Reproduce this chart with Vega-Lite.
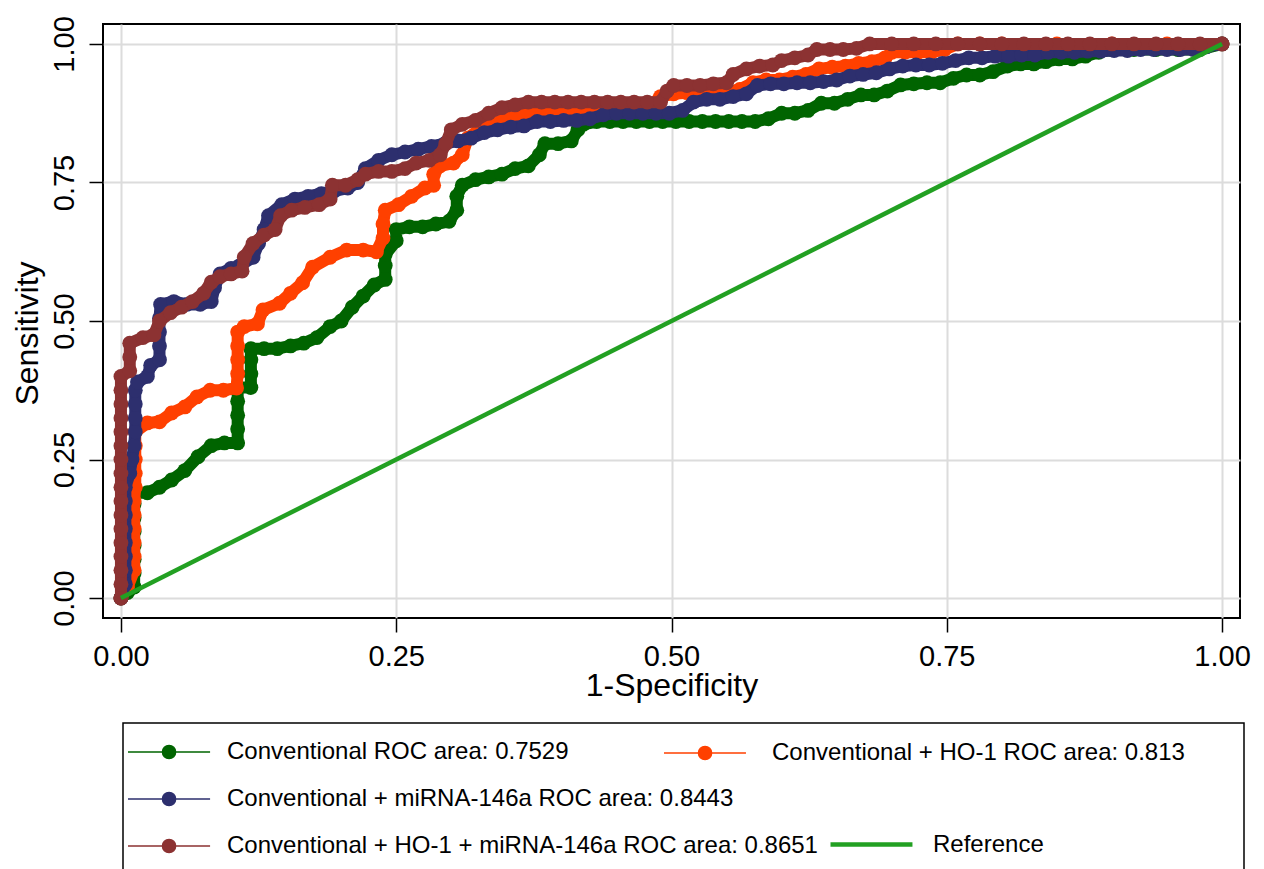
{
  "$schema": "https://vega.github.io/schema/vega-lite/v6.json",
  "width": 1137,
  "height": 594,
  "autosize": {"type": "none"},
  "padding": {"left": 103, "top": 24, "right": 24, "bottom": 251},
  "background": "white",
  "config": {
    "font": "Liberation Sans",
    "view": {"stroke": "#000", "strokeWidth": 2},
    "legend": {"strokeWidth": 1.5}
  },
  "datasets": {
    "conv": [
      {"x":0,"y":0},{"x":0.006,"y":0.01},{"x":0.012,"y":0.02},{"x":0.012,"y":0.045},{"x":0.012,"y":0.07},{"x":0.012,"y":0.095},{"x":0.012,"y":0.12},{"x":0.012,"y":0.145},{"x":0.012,"y":0.17},{"x":0.012,"y":0.19},
      {"x":0.024,"y":0.19},{"x":0.035,"y":0.2},{"x":0.046,"y":0.213},{"x":0.058,"y":0.23},{"x":0.07,"y":0.255},{"x":0.082,"y":0.275},{"x":0.094,"y":0.28},{"x":0.106,"y":0.28},
      {"x":0.106,"y":0.305},{"x":0.106,"y":0.33},{"x":0.106,"y":0.355},{"x":0.106,"y":0.38},{"x":0.118,"y":0.38},{"x":0.118,"y":0.405},{"x":0.118,"y":0.43},{"x":0.118,"y":0.45},
      {"x":0.13,"y":0.45},{"x":0.142,"y":0.45},{"x":0.154,"y":0.455},{"x":0.166,"y":0.46},{"x":0.178,"y":0.47},{"x":0.19,"y":0.49},{"x":0.2,"y":0.5},{"x":0.21,"y":0.525},{"x":0.22,"y":0.545},{"x":0.23,"y":0.565},{"x":0.24,"y":0.575},
      {"x":0.24,"y":0.6},{"x":0.24,"y":0.62},{"x":0.25,"y":0.645},{"x":0.25,"y":0.665},{"x":0.262,"y":0.67},{"x":0.274,"y":0.67},{"x":0.286,"y":0.675},{"x":0.298,"y":0.68},
      {"x":0.305,"y":0.7},{"x":0.305,"y":0.725},{"x":0.31,"y":0.745},{"x":0.322,"y":0.755},{"x":0.334,"y":0.76},{"x":0.346,"y":0.765},{"x":0.358,"y":0.775},{"x":0.37,"y":0.78},{"x":0.38,"y":0.8},{"x":0.385,"y":0.82},{"x":0.397,"y":0.82},{"x":0.409,"y":0.825},{"x":0.415,"y":0.845},{"x":0.42,"y":0.855},
      {"x":0.432,"y":0.86},{"x":0.444,"y":0.86},{"x":0.456,"y":0.86},{"x":0.468,"y":0.86},{"x":0.48,"y":0.86},{"x":0.492,"y":0.86},{"x":0.504,"y":0.86},{"x":0.516,"y":0.86},{"x":0.528,"y":0.86},{"x":0.54,"y":0.86},{"x":0.552,"y":0.86},{"x":0.564,"y":0.86},{"x":0.576,"y":0.86},
      {"x":0.588,"y":0.865},{"x":0.6,"y":0.875},{"x":0.612,"y":0.875},{"x":0.624,"y":0.88},{"x":0.636,"y":0.893},{"x":0.648,"y":0.893},{"x":0.66,"y":0.9},{"x":0.672,"y":0.908},{"x":0.684,"y":0.908},{"x":0.696,"y":0.915},{"x":0.708,"y":0.926},{"x":0.72,"y":0.928},{"x":0.732,"y":0.93},{"x":0.744,"y":0.93},{"x":0.756,"y":0.938},{"x":0.768,"y":0.944},{"x":0.78,"y":0.944},{"x":0.792,"y":0.95},{"x":0.805,"y":0.96},{"x":0.817,"y":0.964},{"x":0.829,"y":0.964},{"x":0.84,"y":0.968},{"x":0.852,"y":0.973},{"x":0.864,"y":0.973},{"x":0.876,"y":0.978},{"x":0.888,"y":0.985},{"x":0.9,"y":0.99},{"x":0.92,"y":0.99},{"x":0.94,"y":0.99},{"x":0.96,"y":0.99},{"x":0.98,"y":0.99},{"x":1,"y":1}
    ],
    "ho1": [
      {"x":0,"y":0},{"x":0.006,"y":0.02},{"x":0.012,"y":0.05},{"x":0.012,"y":0.075},{"x":0.012,"y":0.1},{"x":0.012,"y":0.125},{"x":0.012,"y":0.15},{"x":0.012,"y":0.175},{"x":0.013,"y":0.2},{"x":0.013,"y":0.225},{"x":0.013,"y":0.25},{"x":0.013,"y":0.275},{"x":0.013,"y":0.3},
      {"x":0.024,"y":0.316},{"x":0.035,"y":0.318},{"x":0.046,"y":0.334},{"x":0.058,"y":0.345},{"x":0.069,"y":0.363},{"x":0.081,"y":0.375},{"x":0.093,"y":0.375},{"x":0.105,"y":0.379},
      {"x":0.106,"y":0.405},{"x":0.106,"y":0.43},{"x":0.106,"y":0.455},{"x":0.106,"y":0.48},{"x":0.112,"y":0.49},{"x":0.124,"y":0.495},{"x":0.129,"y":0.52},{"x":0.144,"y":0.532},{"x":0.154,"y":0.55},{"x":0.165,"y":0.569},{"x":0.174,"y":0.597},{"x":0.19,"y":0.615},{"x":0.205,"y":0.628},{"x":0.22,"y":0.628},{"x":0.232,"y":0.625},
      {"x":0.238,"y":0.65},{"x":0.238,"y":0.675},{"x":0.24,"y":0.7},{"x":0.252,"y":0.71},{"x":0.264,"y":0.725},{"x":0.276,"y":0.74},{"x":0.284,"y":0.745},{"x":0.284,"y":0.765},{"x":0.29,"y":0.78},{"x":0.302,"y":0.785},
      {"x":0.31,"y":0.8},{"x":0.315,"y":0.83},{"x":0.325,"y":0.845},{"x":0.337,"y":0.855},{"x":0.349,"y":0.865},{"x":0.361,"y":0.87},{"x":0.373,"y":0.875},{"x":0.385,"y":0.878},{"x":0.397,"y":0.878},{"x":0.41,"y":0.878},{"x":0.422,"y":0.878},{"x":0.434,"y":0.878},{"x":0.446,"y":0.878},{"x":0.458,"y":0.878},{"x":0.47,"y":0.88},{"x":0.482,"y":0.89},{"x":0.49,"y":0.905},
      {"x":0.502,"y":0.91},{"x":0.514,"y":0.912},{"x":0.526,"y":0.912},{"x":0.538,"y":0.912},{"x":0.55,"y":0.912},{"x":0.562,"y":0.918},{"x":0.574,"y":0.93},{"x":0.586,"y":0.935},{"x":0.598,"y":0.935},{"x":0.61,"y":0.94},{"x":0.622,"y":0.945},{"x":0.634,"y":0.955},{"x":0.646,"y":0.958},{"x":0.658,"y":0.96},{"x":0.67,"y":0.965},{"x":0.682,"y":0.968},{"x":0.694,"y":0.975},{"x":0.7,"y":0.985},{"x":0.712,"y":0.985},{"x":0.724,"y":0.985},{"x":0.736,"y":0.985},{"x":0.748,"y":0.99},{"x":0.76,"y":1},{"x":0.78,"y":1},{"x":0.8,"y":1},{"x":0.85,"y":1},{"x":0.9,"y":1},{"x":0.95,"y":1},{"x":1,"y":1}
    ],
    "mirna": [
      {"x":0,"y":0},{"x":0.004,"y":0.025},{"x":0.004,"y":0.05},{"x":0.004,"y":0.075},{"x":0.004,"y":0.1},{"x":0.004,"y":0.125},{"x":0.004,"y":0.15},{"x":0.004,"y":0.175},{"x":0.004,"y":0.2},{"x":0.008,"y":0.225},{"x":0.01,"y":0.25},{"x":0.012,"y":0.275},{"x":0.013,"y":0.3},{"x":0.013,"y":0.325},{"x":0.013,"y":0.35},{"x":0.013,"y":0.375},{"x":0.015,"y":0.39},
      {"x":0.024,"y":0.4},{"x":0.027,"y":0.42},{"x":0.035,"y":0.43},{"x":0.035,"y":0.455},{"x":0.035,"y":0.48},{"x":0.035,"y":0.505},{"x":0.036,"y":0.53},{"x":0.048,"y":0.535},{"x":0.06,"y":0.53},{"x":0.072,"y":0.53},{"x":0.082,"y":0.535},{"x":0.085,"y":0.56},{"x":0.09,"y":0.585},{"x":0.1,"y":0.595},{"x":0.108,"y":0.6},
      {"x":0.12,"y":0.615},{"x":0.125,"y":0.64},{"x":0.13,"y":0.665},{"x":0.134,"y":0.69},{"x":0.146,"y":0.71},{"x":0.158,"y":0.72},{"x":0.17,"y":0.725},{"x":0.182,"y":0.73},{"x":0.194,"y":0.735},{"x":0.206,"y":0.74},{"x":0.215,"y":0.75},{"x":0.222,"y":0.775},{"x":0.234,"y":0.79},{"x":0.246,"y":0.8},{"x":0.258,"y":0.805},{"x":0.27,"y":0.81},{"x":0.282,"y":0.815},{"x":0.294,"y":0.82},
      {"x":0.306,"y":0.825},{"x":0.318,"y":0.83},{"x":0.33,"y":0.84},{"x":0.342,"y":0.845},{"x":0.354,"y":0.85},{"x":0.366,"y":0.852},{"x":0.378,"y":0.86},{"x":0.39,"y":0.86},{"x":0.402,"y":0.862},{"x":0.414,"y":0.862},{"x":0.426,"y":0.865},{"x":0.438,"y":0.872},{"x":0.45,"y":0.875},{"x":0.462,"y":0.875},{"x":0.474,"y":0.875},{"x":0.486,"y":0.875},{"x":0.498,"y":0.875},
      {"x":0.51,"y":0.88},{"x":0.52,"y":0.895},{"x":0.532,"y":0.9},{"x":0.544,"y":0.9},{"x":0.556,"y":0.905},{"x":0.568,"y":0.91},{"x":0.578,"y":0.925},{"x":0.59,"y":0.928},{"x":0.602,"y":0.928},{"x":0.614,"y":0.93},{"x":0.626,"y":0.93},{"x":0.638,"y":0.932},{"x":0.65,"y":0.935},{"x":0.662,"y":0.942},{"x":0.674,"y":0.945},{"x":0.686,"y":0.948},{"x":0.698,"y":0.955},{"x":0.71,"y":0.96},{"x":0.722,"y":0.962},{"x":0.734,"y":0.962},{"x":0.746,"y":0.965},{"x":0.758,"y":0.97},{"x":0.77,"y":0.975},{"x":0.782,"y":0.975},{"x":0.794,"y":0.978},{"x":0.806,"y":0.978},{"x":0.818,"y":0.98},{"x":0.83,"y":0.98},{"x":0.842,"y":0.985},{"x":0.854,"y":0.985},{"x":0.866,"y":0.985},{"x":0.878,"y":0.987},{"x":0.89,"y":0.987},{"x":0.902,"y":0.988},{"x":0.914,"y":0.988},{"x":0.926,"y":0.99},{"x":0.938,"y":0.99},{"x":0.95,"y":0.99},{"x":0.962,"y":0.99},{"x":0.974,"y":0.99},{"x":0.986,"y":0.995},{"x":1,"y":1}
    ],
    "comb": [
      {"x":0,"y":0},{"x":0,"y":0.025},{"x":0,"y":0.05},{"x":0,"y":0.075},{"x":0,"y":0.1},{"x":0,"y":0.125},{"x":0,"y":0.15},{"x":0,"y":0.175},{"x":0,"y":0.2},{"x":0,"y":0.225},{"x":0,"y":0.25},{"x":0,"y":0.275},{"x":0,"y":0.3},{"x":0,"y":0.325},{"x":0,"y":0.35},{"x":0,"y":0.375},{"x":0,"y":0.4},
      {"x":0.008,"y":0.41},{"x":0.008,"y":0.435},{"x":0.008,"y":0.46},{"x":0.02,"y":0.47},{"x":0.03,"y":0.475},{"x":0.035,"y":0.5},{"x":0.045,"y":0.515},{"x":0.055,"y":0.525},{"x":0.065,"y":0.535},{"x":0.075,"y":0.55},{"x":0.082,"y":0.57},{"x":0.09,"y":0.58},{"x":0.1,"y":0.585},{"x":0.11,"y":0.59},
      {"x":0.112,"y":0.615},{"x":0.12,"y":0.64},{"x":0.13,"y":0.655},{"x":0.14,"y":0.665},{"x":0.145,"y":0.69},{"x":0.155,"y":0.7},{"x":0.167,"y":0.705},{"x":0.18,"y":0.71},{"x":0.19,"y":0.72},{"x":0.192,"y":0.745},{"x":0.204,"y":0.745},{"x":0.215,"y":0.755},{"x":0.222,"y":0.765},{"x":0.234,"y":0.77},{"x":0.246,"y":0.77},{"x":0.258,"y":0.775},{"x":0.268,"y":0.785},{"x":0.28,"y":0.79},{"x":0.29,"y":0.8},
      {"x":0.295,"y":0.82},{"x":0.3,"y":0.845},{"x":0.31,"y":0.855},{"x":0.322,"y":0.862},{"x":0.334,"y":0.875},{"x":0.346,"y":0.885},{"x":0.358,"y":0.89},{"x":0.37,"y":0.895},{"x":0.382,"y":0.895},{"x":0.394,"y":0.895},{"x":0.406,"y":0.895},{"x":0.418,"y":0.895},{"x":0.43,"y":0.895},{"x":0.442,"y":0.895},{"x":0.454,"y":0.895},{"x":0.466,"y":0.895},{"x":0.478,"y":0.895},{"x":0.49,"y":0.895},
      {"x":0.496,"y":0.915},{"x":0.502,"y":0.925},{"x":0.514,"y":0.925},{"x":0.526,"y":0.925},{"x":0.538,"y":0.928},{"x":0.55,"y":0.93},{"x":0.556,"y":0.945},{"x":0.568,"y":0.955},{"x":0.58,"y":0.96},{"x":0.592,"y":0.962},{"x":0.6,"y":0.97},{"x":0.612,"y":0.975},{"x":0.624,"y":0.98},{"x":0.632,"y":0.99},{"x":0.644,"y":0.99},{"x":0.656,"y":0.99},{"x":0.668,"y":0.992},
      {"x":0.68,"y":1},{"x":0.7,"y":1},{"x":0.72,"y":1},{"x":0.74,"y":1},{"x":0.76,"y":1},{"x":0.78,"y":1},{"x":0.8,"y":1},{"x":0.82,"y":1},{"x":0.84,"y":1},{"x":0.86,"y":1},{"x":0.88,"y":1},{"x":0.9,"y":1},{"x":0.92,"y":1},{"x":0.94,"y":1},{"x":0.96,"y":1},{"x":0.98,"y":1},{"x":1,"y":1}
    ],
    "ref": [{"x":0,"y":0},{"x":1,"y":1}]
  },
  "encoding": {
    "x": {
      "field": "x", "type": "quantitative",
      "scale": {"domain": [-0.0163, 1.0163], "nice": false, "zero": false},
      "axis": {
        "values": [0, 0.25, 0.5, 0.75, 1], "format": ".2f", "title": "1-Specificity",
        "grid": true, "gridColor": "#dcdcdc", "gridWidth": 2, "domain": false,
        "tickColor": "#000", "tickSize": 14, "tickWidth": 1.5,
        "labelFont": "Liberation Sans", "labelFontSize": 29, "labelColor": "#000", "labelPadding": 10,
        "titleFont": "Liberation Sans", "titleFontSize": 32, "titleFontWeight": "normal", "titleColor": "#000",
        "titleY": 77, "titleBaseline": "alphabetic"
      }
    },
    "y": {
      "field": "y", "type": "quantitative",
      "scale": {"domain": [-0.036, 1.036], "nice": false, "zero": false},
      "axis": {
        "values": [0, 0.25, 0.5, 0.75, 1], "format": ".2f", "title": "Sensitivity",
        "grid": true, "gridColor": "#dcdcdc", "gridWidth": 2, "domain": false,
        "tickColor": "#000", "tickSize": 14, "tickWidth": 1.5,
        "labelFont": "Liberation Sans", "labelFontSize": 29, "labelColor": "#000", "labelPadding": 16,
        "labelAngle": -90, "labelAlign": "center", "labelBaseline": "alphabetic",
        "titleFont": "Liberation Sans", "titleFontSize": 32, "titleFontWeight": "normal", "titleColor": "#000",
        "titleAngle": -90, "titleX": -66, "titleY": 309, "titleBaseline": "alphabetic", "titleAlign": "center"
      }
    }
  },
  "layer": [
    {
      "data": {"name": "conv"},
      "mark": {"type": "line", "strokeWidth": 12, "strokeJoin": "round", "strokeCap": "round"},
      "encoding": {
        "color": {
          "datum": "Conventional ROC area: 0.7529",
          "scale": {
            "domain": ["Conventional ROC area: 0.7529", "Conventional + miRNA-146a ROC area: 0.8443", "Conventional + HO-1 + miRNA-146a ROC area: 0.8651", " ", "  ", "   "],
            "range": ["#006400", "#2d2f6e", "#8c3232", "transparent", "transparent", "transparent"]
          },
          "legend": {
            "orient": "none", "legendX": 20, "legendY": 699, "direction": "vertical",
            "columns": 2, "columnPadding": 320, "rowPadding": 10,
            "title": "\u00a0", "titleOrient": "bottom", "titleFontSize": 24, "titlePadding": 4,
            "padding": 4, "strokeColor": "#000",
            "labelFont": "Liberation Sans", "labelFontSize": 24, "labelColor": "#000", "labelLimit": 2000,
            "symbolSize": 2304, "symbolOffset": 0, "labelOffset": 50,
            "symbolType": "M-1,0H2.42M0.985,0A0.275,0.275,0,1,1,0.435,0A0.275,0.275,0,1,1,0.985,0Z",
            "symbolStrokeWidth": 1.5,
            "encode": {
              "symbols": {
                "update": {
                  "shape": {"value": "M-1,0H2.42M0.985,0A0.275,0.275,0,1,1,0.435,0A0.275,0.275,0,1,1,0.985,0Z"},
                  "size": {"value": 2304},
                  "fill": {"scale": "color", "field": "value"},
                  "stroke": {"scale": "color", "field": "value"},
                  "strokeWidth": {"value": 1.5},
                  "opacity": {"value": 1}, "fillOpacity": {"value": 1}, "strokeOpacity": {"value": 1}
                }
              }
            }
          }
        }
      }
    },
    {
      "data": {"name": "conv"},
      "mark": {"type": "point", "filled": true, "size": 220, "opacity": 1},
      "encoding": {"color": {"datum": "Conventional ROC area: 0.7529"}}
    },
    {
      "data": {"name": "ho1"},
      "mark": {"type": "line", "strokeWidth": 12, "strokeJoin": "round", "strokeCap": "round"},
      "encoding": {
        "stroke": {
          "datum": "Conventional + HO-1 ROC area: 0.813",
          "scale": {"domain": ["Conventional + HO-1 ROC area: 0.813"], "range": ["#ff4000"]},
          "legend": {
            "orient": "none", "legendX": 560, "legendY": 716, "title": null, "padding": 0,
            "labelFont": "Liberation Sans", "labelFontSize": 24, "labelColor": "#000", "labelLimit": 2000,
            "symbolSize": 576, "symbolOffset": 0, "labelOffset": 83,
            "symbolType": "M-1,0H5.83M2.97,0A0.55,0.55,0,1,1,1.87,0A0.55,0.55,0,1,1,2.97,0Z",
            "symbolFillColor": "#ff4000", "symbolStrokeColor": "#ff4000", "symbolStrokeWidth": 1.5,
            "encode": {
              "symbols": {
                "update": {
                  "shape": {"value": "M-1,0H5.83M2.97,0A0.55,0.55,0,1,1,1.87,0A0.55,0.55,0,1,1,2.97,0Z"},
                  "size": {"value": 576},
                  "fill": {"value": "#ff4000"},
                  "stroke": {"value": "#ff4000"},
                  "strokeWidth": {"value": 1.5},
                  "opacity": {"value": 1}, "fillOpacity": {"value": 1}, "strokeOpacity": {"value": 1}
                }
              }
            }
          }
        }
      }
    },
    {
      "data": {"name": "ho1"},
      "mark": {"type": "point", "filled": true, "size": 220, "opacity": 1, "fill": "#ff4000", "strokeWidth": 0}
    },
    {
      "data": {"name": "mirna"},
      "mark": {"type": "line", "strokeWidth": 12, "strokeJoin": "round", "strokeCap": "round"},
      "encoding": {"color": {"datum": "Conventional + miRNA-146a ROC area: 0.8443"}}
    },
    {
      "data": {"name": "mirna"},
      "mark": {"type": "point", "filled": true, "size": 220, "opacity": 1},
      "encoding": {"color": {"datum": "Conventional + miRNA-146a ROC area: 0.8443"}}
    },
    {
      "data": {"name": "comb"},
      "mark": {"type": "line", "strokeWidth": 12, "strokeJoin": "round", "strokeCap": "round"},
      "encoding": {"color": {"datum": "Conventional + HO-1 + miRNA-146a ROC area: 0.8651"}}
    },
    {
      "data": {"name": "comb"},
      "mark": {"type": "point", "filled": true, "size": 220, "opacity": 1},
      "encoding": {"color": {"datum": "Conventional + HO-1 + miRNA-146a ROC area: 0.8651"}}
    },
    {
      "data": {"name": "ref"},
      "mark": {"type": "line", "color": "#22a022"},
      "encoding": {
        "strokeWidth": {
          "datum": "Reference",
          "scale": {"type": "ordinal", "domain": ["Reference"], "range": [4.5]},
          "legend": {
            "orient": "none", "legendX": 725, "legendY": 806, "title": null, "padding": 0,
            "labelFont": "Liberation Sans", "labelFontSize": 24, "labelColor": "#000", "labelLimit": 2000,
            "symbolSize": 576, "symbolOffset": 0, "labelOffset": 76,
            "symbolType": "M-1,0H5.83", "symbolStrokeColor": "#22a022", "symbolStrokeWidth": 4.5, "symbolFillColor": "transparent",
            "encode": {
              "symbols": {
                "update": {
                  "shape": {"value": "M-1,0H5.83"},
                  "size": {"value": 576},
                  "fill": {"value": "transparent"},
                  "stroke": {"value": "#22a022"},
                  "strokeWidth": {"value": 4.5},
                  "opacity": {"value": 1}, "strokeOpacity": {"value": 1}
                }
              }
            }
          }
        }
      }
    }
  ]
}
